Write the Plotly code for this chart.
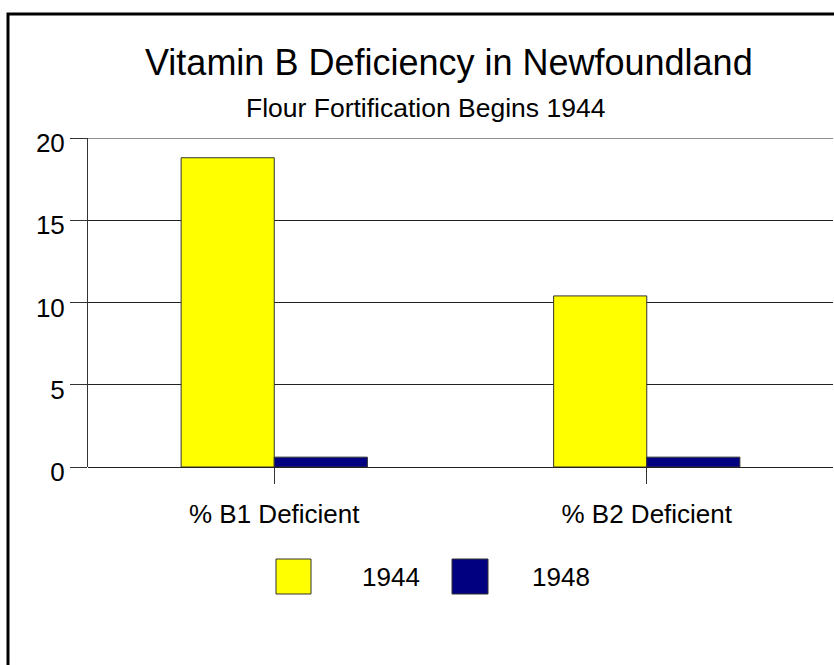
import plotly.graph_objects as go

categories = ["% B1 Deficient", "% B2 Deficient"]
series_names = ["1944", "1948"]
values_1944 = [18.8, 10.4]
values_1948 = [0.6, 0.6]
colors = ["#FFFF00", "#000080"]
y_ticks = [0, 5, 10, 15, 20]

W, H = 834, 665
L, R, T, B = 88, 833, 138, 467  # plot area in pixels

def px(x):
    return (x - L) / (R - L)

def py(y):
    return (B - y) / (B - T)

FONT = "Liberation Sans, Arial, sans-serif"

fig = go.Figure()
for name, vals, col in zip(series_names, [values_1944, values_1948], colors):
    fig.add_trace(go.Bar(
        x=categories, y=vals, name=name,
        marker=dict(color=col, line=dict(color="#333333", width=1)),
        showlegend=False,
    ))

fig.update_layout(
    width=W, height=H,
    margin=dict(l=L, r=W - R, t=T, b=H - B, pad=0),
    paper_bgcolor="white", plot_bgcolor="white",
    barmode="group", bargap=0.5, bargroupgap=0,
    font=dict(family=FONT, color="black"),
    xaxis=dict(
        type="category", range=[-0.5, 1.5],
        showline=False, showgrid=False, zeroline=False,
        ticks="outside", ticklen=16, tickwidth=1, tickcolor="#333333",
        tickfont=dict(size=26, family=FONT), ticklabelstandoff=8,
    ),
    yaxis=dict(
        range=[0, 20], tickvals=y_ticks,
        showline=True, linecolor="#333333", linewidth=1,
        showgrid=True, gridcolor="#222222", gridwidth=1,
        zeroline=True, zerolinecolor="#222222", zerolinewidth=1,
        ticks="outside", ticklen=17, tickwidth=1, tickcolor="#333333",
        tickfont=dict(size=26, family=FONT), ticklabelshift=5,
    ),
)

# Top gridline (plotly omits the one at the range edge)
fig.add_shape(type="line", xref="paper", yref="y", x0=0, x1=1,
              y0=y_ticks[-1], y1=y_ticks[-1], line=dict(color="#222222", width=1))

# Titles
fig.add_annotation(text="Vitamin B Deficiency in Newfoundland", xref="paper", yref="paper",
                   x=px(449), y=py(62), showarrow=False, xanchor="center", yanchor="middle",
                   font=dict(size=36, family=FONT, color="black"))
fig.add_annotation(text="Flour Fortification Begins 1944", xref="paper", yref="paper",
                   x=px(425), y=py(108), showarrow=False, xanchor="center", yanchor="middle",
                   font=dict(size=26.5, family=FONT, color="black"))

# Legend (manual, large swatches)
legend_items = [(276, 311, 360), (452, 488, 530)]
for (x0, x1, tx), name, col in zip(legend_items, series_names, colors):
    fig.add_shape(type="rect", xref="paper", yref="paper",
                  x0=px(x0), x1=px(x1), y0=py(559), y1=py(594),
                  fillcolor=col, line=dict(color="#333333", width=1))
    fig.add_annotation(text=name, xref="paper", yref="paper", x=px(tx), y=py(577),
                       showarrow=False, xanchor="left", yanchor="middle",
                       font=dict(size=26, family=FONT, color="black"))

# Outer frame
fig.add_shape(type="rect", xref="paper", yref="paper",
              x0=px(8), x1=px(900), y0=py(14), y1=py(720),
              line=dict(color="black", width=3), fillcolor="rgba(0,0,0,0)", layer="above")

fig.write_html("out.html", config={"displayModeBar": False},
               post_script="document.body.style.margin='0px';")
